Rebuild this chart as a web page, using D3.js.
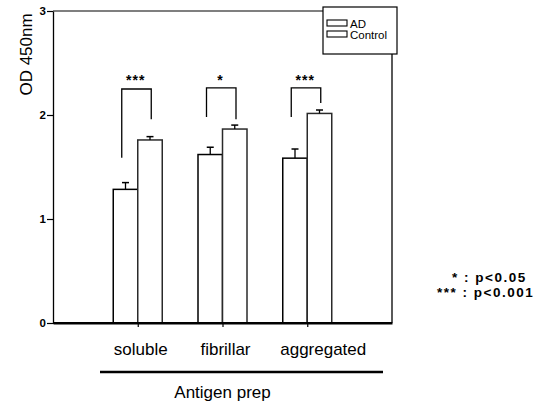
<!DOCTYPE html>
<html>
<head>
<meta charset="utf-8">
<script src="https://cdn.jsdelivr.net/npm/d3@7"></script>
<style>
  html, body { margin: 0; padding: 0; background: #fff; }
  svg { display: block; font-family: "Liberation Sans", Arial, Helvetica, sans-serif; }
</style>
</head>
<body>
<svg id="chart" width="538" height="407"></svg>
<script>
// ---- data ----
const categories = ["soluble", "fibrillar", "aggregated"];
const seriesNames = ["AD", "Control"];
const adValues = [1.285, 1.62, 1.585];
const adErrors = [0.065, 0.07, 0.088];
const controlValues = [1.76, 1.865, 2.015];
const controlErrors = [0.032, 0.038, 0.033];
const yTicks = [0, 1, 2, 3];
const sigLabels = ["***", "*", "***"];
const bracketTop = [2.25, 2.26, 2.26];
const bracketLeftEnd = [1.59, 1.98, 1.98];
const bracketRightEnd = [1.96, 1.96, 2.115];
const footnoteLines = ["* : p<0.05", "*** : p<0.001"];
const xTitle = "Antigen prep";
const yTitle = "OD 450nm";

// ---- layout ----
const svg = d3.select("#chart");
const x = d3.scaleLinear().domain([0, 4]).range([53, 392]);
const y = d3.scaleLinear().domain([0, 3]).range([323, 11]);
const bw = 24.5;
const catX = i => x(i + 1);

// y axis
const yAxis = svg.append("g").attr("transform", `translate(${x(0)},0)`)
  .call(d3.axisLeft(y).tickValues(yTicks).tickFormat(d3.format("d")).tickSize(6).tickSizeOuter(0).tickPadding(1));
yAxis.select(".domain").attr("stroke", "#000").attr("stroke-width", 1.3);
yAxis.selectAll(".tick line").attr("stroke", "#000").attr("stroke-width", 1.2);
yAxis.selectAll(".tick text").attr("font-size", 11.5).attr("font-weight", "bold").attr("fill", "#000")
  .attr("font-family", "Liberation Sans, Arial, sans-serif");

// x axis
const xAxis = svg.append("g").attr("transform", `translate(0,${y(0)})`)
  .call(d3.axisBottom(x).tickValues([1, 2, 3]).tickFormat("").tickSize(4).tickSizeOuter(0));
xAxis.select(".domain").attr("stroke", "#000").attr("stroke-width", 2);
xAxis.selectAll(".tick line").attr("stroke", "#000").attr("stroke-width", 1.2);

// frame: top and right
svg.append("line").attr("x1", x(0)).attr("x2", 323).attr("y1", y(3)).attr("y2", y(3))
  .attr("stroke", "#000").attr("stroke-width", 1.2);
svg.append("line").attr("x1", x(4)).attr("x2", x(4)).attr("y1", 54).attr("y2", y(0))
  .attr("stroke", "#000").attr("stroke-width", 1.3);

// bars
const bars = svg.append("g");
categories.forEach((c, i) => {
  const cx = catX(i);
  [[adValues[i], adErrors[i], cx - bw], [controlValues[i], controlErrors[i], cx]].forEach(([v, e, bx], s) => {
    const col = s === 0 ? "#000" : "#2a2a2a";
    bars.append("rect").attr("x", bx).attr("y", y(v)).attr("width", bw).attr("height", y(0) - y(v))
      .attr("fill", "#fff").attr("stroke", col).attr("stroke-width", 1.5);
    const mx = bx + bw / 2;
    bars.append("line").attr("x1", mx).attr("x2", mx).attr("y1", y(v)).attr("y2", y(v + e))
      .attr("stroke", "#000").attr("stroke-width", 1.3);
    bars.append("line").attr("x1", mx - 3.5).attr("x2", mx + 3.5).attr("y1", y(v + e)).attr("y2", y(v + e))
      .attr("stroke", "#000").attr("stroke-width", 1.5);
  });
});
// redraw baseline on top
svg.append("line").attr("x1", x(0)).attr("x2", x(4)).attr("y1", y(0)).attr("y2", y(0))
  .attr("stroke", "#000").attr("stroke-width", 2);

// significance brackets
const br = svg.append("g");
categories.forEach((c, i) => {
  const cx = catX(i);
  const lx = cx - 16, rx = cx + 13.5;
  br.append("path")
    .attr("d", `M${lx},${y(bracketLeftEnd[i])}V${y(bracketTop[i])}H${rx}V${y(bracketRightEnd[i])}`)
    .attr("fill", "none").attr("stroke", "#000").attr("stroke-width", 1.3);
  br.append("text").attr("x", cx - 2).attr("y", 85).attr("text-anchor", "middle")
    .attr("font-size", 14).attr("font-weight", "bold").attr("letter-spacing", 1)
    .text(sigLabels[i]);
});

// legend
const lg = svg.append("g");
lg.append("rect").attr("x", 323).attr("y", 7).attr("width", 74).attr("height", 47)
  .attr("fill", "#fff").attr("stroke", "#000").attr("stroke-width", 1.2);
seriesNames.forEach((n, i) => {
  lg.append("rect").attr("x", 327).attr("y", 20 + i * 11).attr("width", 20).attr("height", 6)
    .attr("fill", "#fff").attr("stroke", "#000").attr("stroke-width", 1.1);
  lg.append("text").attr("x", 350).attr("y", 28 + i * 11).attr("font-size", 11.5).text(n);
});

// category labels
const labelShift = [3, 3, 16];
categories.forEach((c, i) => {
  svg.append("text").attr("x", catX(i) + labelShift[i]).attr("y", 355).attr("text-anchor", "middle")
    .attr("font-size", 17).text(c);
});

// underline and x title
svg.append("line").attr("x1", 100).attr("x2", 383).attr("y1", 372).attr("y2", 372)
  .attr("stroke", "#000").attr("stroke-width", 2.5);
svg.append("text").attr("x", catX(1)).attr("y", 398).attr("text-anchor", "middle")
  .attr("font-size", 17).text(xTitle);

// y title
svg.append("text").attr("transform", "translate(32,54.5) rotate(-90)").attr("text-anchor", "middle")
  .attr("font-size", 17).text(yTitle);

// footnote
const footX = [452, 437];
footnoteLines.forEach((t, i) => {
  svg.append("text").attr("x", footX[i]).attr("y", 281.5 + i * 15.5)
    .attr("font-size", 13.5).attr("font-weight", "bold").attr("letter-spacing", 1.5).text(t);
});
</script>
</body>
</html>
